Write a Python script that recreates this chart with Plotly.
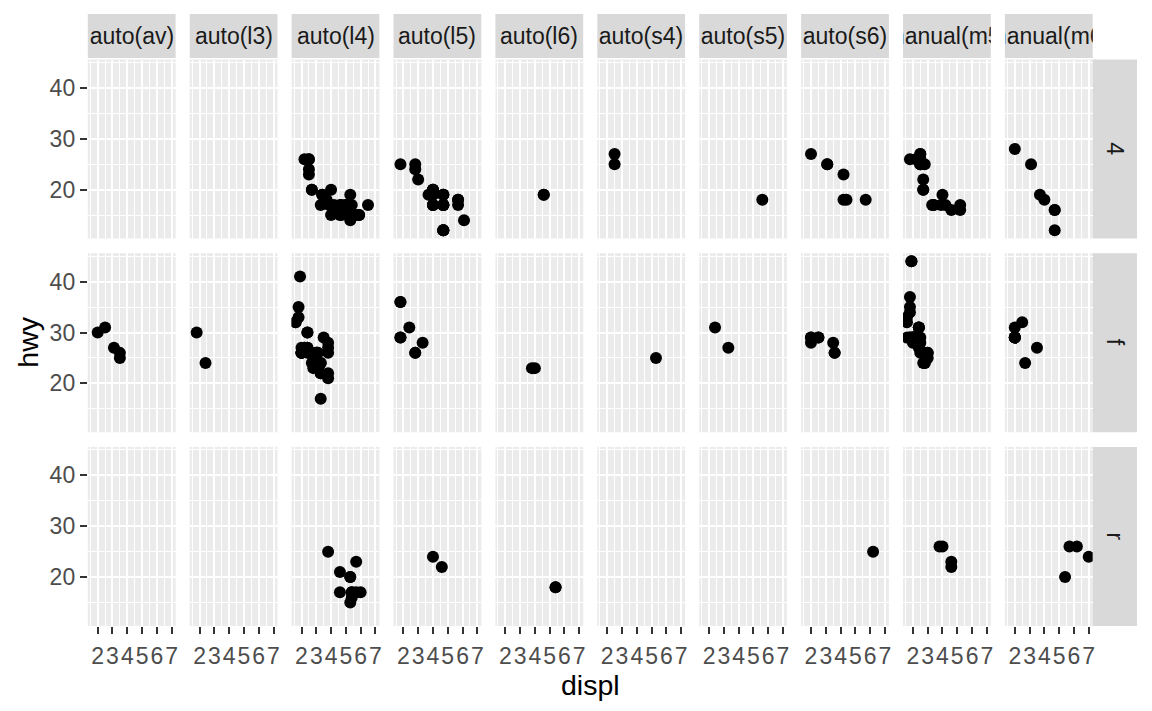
import plotly.graph_objects as go

# ---- data (mpg: displ, hwy, trans, drv) ----
displ = [1.8,1.8,2.0,2.0,2.8,2.8,3.1,1.8,1.8,2.0,2.0,2.8,2.8,3.1,3.1,2.8,3.1,4.2,
         5.3,5.3,5.3,5.7,6.0,5.7,5.7,6.2,6.2,7.0,5.3,5.3,5.7,6.5,2.4,2.4,3.1,3.5,3.6,
         2.4,3.0,3.3,3.3,3.3,3.3,3.3,3.8,3.8,3.8,4.0,3.7,3.7,3.9,3.9,4.7,4.7,4.7,5.2,5.2,
         3.9,4.7,4.7,4.7,5.2,5.7,5.9,4.7,4.7,4.7,4.7,4.7,4.7,5.2,5.2,5.7,5.9,
         4.6,5.4,5.4,4.0,4.0,4.0,4.0,4.6,5.0,4.2,4.2,4.6,4.6,4.6,5.4,5.4,
         3.8,3.8,4.0,4.0,4.6,4.6,4.6,4.6,5.4,1.6,1.6,1.6,1.6,1.6,1.8,1.8,1.8,2.0,
         2.4,2.4,2.4,2.4,2.5,2.5,3.3,2.0,2.0,2.0,2.0,2.7,2.7,2.7,
         3.0,3.7,4.0,4.7,4.7,4.7,5.7,6.1,4.0,4.2,4.4,4.6,5.4,5.4,5.4,4.0,4.0,4.6,5.0,
         2.4,2.4,2.5,2.5,3.5,3.5,3.0,3.0,3.5,3.3,3.3,4.0,5.6,3.1,3.8,3.8,3.8,5.3,
         2.5,2.5,2.5,2.5,2.5,2.5,2.2,2.2,2.5,2.5,2.5,2.5,2.5,2.5,
         2.7,2.7,3.4,3.4,4.0,4.7,2.2,2.2,2.4,2.4,3.0,3.0,3.5,2.2,2.2,2.4,2.4,3.0,3.0,3.3,
         1.8,1.8,1.8,1.8,1.8,4.7,5.7,2.7,2.7,2.7,3.4,3.4,4.0,4.0,
         2.0,2.0,2.0,2.0,2.8,1.9,2.0,2.0,2.0,2.0,2.5,2.5,2.8,2.8,
         1.9,1.9,2.0,2.0,2.5,2.5,1.8,1.8,2.0,2.0,2.8,2.8,3.6]
hwy = [29,29,31,30,26,26,27,26,25,28,27,25,25,25,25,24,25,23,
       20,15,20,17,17,26,23,26,25,24,19,14,15,17,27,30,26,29,26,
       24,24,22,22,24,24,17,22,21,23,23,19,18,17,17,19,19,12,17,15,
       17,17,12,17,16,18,15,16,12,17,17,16,12,15,16,17,15,
       17,17,18,17,19,17,19,19,17,17,17,16,16,17,15,17,
       26,25,26,24,21,22,23,22,20,33,32,32,29,32,34,36,36,29,
       26,27,30,31,26,26,28,26,29,28,27,24,24,24,
       22,19,20,17,12,19,18,14,15,18,18,15,17,16,18,17,19,19,17,
       29,27,31,32,27,26,26,25,25,17,17,20,18,26,26,27,28,25,
       25,24,27,25,26,23,26,26,26,26,25,27,25,27,
       20,20,19,17,20,17,29,27,31,31,26,26,28,27,29,31,31,26,26,27,
       30,33,35,37,35,15,18,20,20,22,17,19,18,20,
       29,26,29,29,24,44,29,26,29,29,29,29,23,24,
       44,41,29,26,28,29,29,29,28,29,26,26,26]
trans = ["auto(l5)","manual(m5)","manual(m6)","auto(av)","auto(l5)","manual(m5)","auto(av)",
         "manual(m5)","auto(l5)","manual(m6)","auto(s6)","auto(l5)","manual(m5)","auto(s6)","manual(m6)",
         "auto(l5)","auto(s6)","auto(s6)",
         "auto(l4)","auto(l4)","auto(l4)","auto(l4)","auto(l4)","manual(m6)","auto(l4)","manual(m6)","auto(s6)","manual(m6)",
         "auto(l4)","auto(l4)","auto(l4)","auto(l4)",
         "auto(l4)","auto(l4)","auto(l4)","auto(l4)","auto(s6)",
         "auto(l3)","auto(l4)","auto(l4)","auto(l4)","auto(l4)","auto(l4)","auto(l4)","auto(l4)","auto(l4)","auto(l6)","auto(l6)",
         "manual(m6)","auto(l4)","auto(l4)","manual(m5)","auto(l5)","auto(l5)","auto(l5)","manual(m5)","auto(l4)",
         "auto(l4)","auto(l5)","auto(l5)","auto(l5)","auto(l4)","auto(l5)","auto(l4)",
         "manual(m6)","auto(l5)","auto(l5)","auto(l5)","manual(m6)","manual(m6)","auto(l4)","manual(m5)","auto(l5)","auto(l4)",
         "auto(l4)","auto(l4)","auto(l6)",
         "auto(l5)","manual(m5)","auto(l5)","auto(l5)","auto(l6)","auto(l4)",
         "auto(l4)","manual(m5)","manual(m5)","auto(l4)","auto(l4)","auto(l4)","auto(l4)",
         "manual(m5)","auto(l4)","manual(m5)","auto(l5)","auto(l4)","manual(m5)","manual(m5)","auto(l5)","manual(m6)",
         "manual(m5)","auto(l4)","manual(m5)","manual(m5)","auto(l4)","manual(m5)","auto(l5)","auto(l5)","manual(m6)",
         "auto(l4)","manual(m5)","auto(l4)","manual(m5)","auto(l4)","manual(m5)","auto(l5)",
         "auto(l4)","manual(m5)","manual(m5)","auto(l4)","auto(l4)","manual(m6)","manual(m5)",
         "auto(l5)","auto(l5)","auto(l4)","auto(l4)","auto(l5)","auto(l5)","auto(l5)","auto(l5)",
         "auto(l4)","auto(s6)","auto(s6)","auto(l4)",
         "auto(l4)","auto(l4)","auto(l6)",
         "auto(l5)","auto(l5)","auto(l6)","auto(l4)",
         "manual(m5)","auto(l4)","auto(av)","manual(m6)","manual(m6)","auto(av)",
         "auto(l4)","manual(m5)","auto(av)",
         "auto(l4)","manual(m5)","auto(l5)","auto(s5)",
         "auto(l4)","auto(l4)","auto(l4)","auto(l4)","auto(s4)",
         "manual(m5)","auto(l4)","manual(m5)","manual(m5)","auto(l4)","auto(l4)",
         "auto(l4)","manual(m5)","manual(m5)","auto(l4)","auto(s4)","auto(s4)","manual(m5)","manual(m5)",
         "manual(m5)","auto(l4)","auto(l4)","manual(m5)","auto(l5)","auto(l5)",
         "manual(m5)","auto(l4)","manual(m5)","auto(l5)","auto(l4)","manual(m5)","auto(s6)",
         "auto(l4)","manual(m5)","manual(m5)","auto(s5)","auto(l4)","manual(m5)","auto(s5)",
         "auto(l3)","auto(l4)","manual(m5)","manual(m5)","auto(l4)",
         "auto(l4)","auto(s6)",
         "manual(m5)","auto(l4)","manual(m5)","manual(m5)","auto(l4)","manual(m6)","auto(l5)",
         "manual(m5)","auto(l4)","manual(m6)","auto(s6)","manual(m5)",
         "manual(m5)","manual(m5)","auto(l4)","auto(s6)","manual(m6)","auto(s6)","manual(m5)","auto(l4)","manual(m5)",
         "manual(m5)","auto(l4)","manual(m5)","auto(l4)","manual(m5)","auto(s6)",
         "manual(m5)","auto(l5)","auto(s6)","manual(m6)","auto(l5)","manual(m5)","auto(s6)"]
drv = list("fffffff" "44444444" "444" "rrrrrrrrrr" "4444" "fffff" "fffffffffff"
           "444444444" "4444444" "4444444444" "rrr" "444444" "4444444" "rrrrrrrrr"
           "fffffffff" "fffffff" "fffffff" "44444444" "4444" "rrr" "4444" "ffffff" "fff"
           "4444" "fffff" "444444" "44444444" "444444" "fffffff" "fffffff" "fffff" "44"
           "4444444" "fffff" "fffffffff" "ffffff" "fffffff")

trans_levels = ["auto(av)", "auto(l3)", "auto(l4)", "auto(l5)", "auto(l6)",
                "auto(s4)", "auto(s5)", "auto(s6)", "manual(m5)", "manual(m6)"]
drv_levels = ["4", "f", "r"]
x_ticks = [2, 3, 4, 5, 6, 7]
y_ticks = [20, 30, 40]

# ---- layout geometry (page px; the page body has an 8px margin) ----
OFF = 8
W, H = 1152 - 2 * OFF, 711 - 2 * OFF
PX0, PW, PSTEP = 87.8, 87.8, 101.9
PY0, PH, PYSTEP = 59.5, 179.0, 193.7
STRIP_T0, STRIP_T1 = 14.0, 58.0
STRIP_R0, STRIP_R1 = PX0 + 9 * PSTEP + PW, 1137.0
FONT = "Liberation Sans, Arial, sans-serif"
XR = [1.33, 7.27]
YR = [10.4, 45.6]


def fx(px):
    return (px - OFF) / W


def fy(py):
    return 1 - (py - OFF) / H


fig = go.Figure()
layout = dict(width=W, height=H, margin=dict(l=0, r=0, t=0, b=0, autoexpand=False),
              paper_bgcolor="white", plot_bgcolor="#EBEBEB", showlegend=False)
shapes, annotations = [], []

for j, dv in enumerate(drv_levels):
    for i, tr in enumerate(trans_levels):
        k = j * 10 + i + 1
        xs = [d for d, t, v in zip(displ, trans, drv) if t == tr and v == dv]
        ys = [h for h, t, v in zip(hwy, trans, drv) if t == tr and v == dv]
        fig.add_trace(go.Scatter(x=xs, y=ys, mode="markers",
                                 marker=dict(color="black", size=12, line=dict(width=0)),
                                 xaxis=f"x{k}", yaxis=f"y{k}", hoverinfo="x+y"))
        x0 = PX0 + i * PSTEP
        y0 = PY0 + j * PYSTEP
        bottom = (j == 2)
        left = (i == 0)
        layout[f"xaxis{k}"] = dict(
            domain=[fx(x0), fx(x0 + PW)], anchor=f"y{k}", range=XR,
            automargin=False, tickangle=0, ticklabelstandoff=2,
            tickmode="array", tickvals=x_ticks, ticktext=[str(t) for t in x_ticks],
            showticklabels=bottom, ticks="outside" if bottom else "",
            ticklen=7, tickwidth=2.4, tickcolor="#333333",
            tickfont=dict(family=FONT, size=23, color="#4D4D4D"),
            showgrid=True, gridcolor="white", gridwidth=2.4,
            minor=dict(tickvals=[1.5, 2.5, 3.5, 4.5, 5.5, 6.5], showgrid=True,
                       gridcolor="white", gridwidth=1.2, ticks=""),
            zeroline=False, showline=False, fixedrange=True)
        layout[f"yaxis{k}"] = dict(
            domain=[fy(y0 + PH), fy(y0)], anchor=f"x{k}", range=YR,
            automargin=False, tickangle=0,
            tickmode="array", tickvals=y_ticks, ticktext=[str(t) for t in y_ticks],
            showticklabels=left, ticks="outside" if left else "",
            ticklen=7, tickwidth=2.4, tickcolor="#333333",
            tickfont=dict(family=FONT, size=23, color="#4D4D4D"),
            showgrid=True, gridcolor="white", gridwidth=2.4,
            minor=dict(tickvals=[15, 25, 35, 45], showgrid=True,
                       gridcolor="white", gridwidth=1.2, ticks=""),
            zeroline=False, showline=False, fixedrange=True)

# top strips
for i, tr in enumerate(trans_levels):
    x0 = PX0 + i * PSTEP
    shapes.append(dict(type="rect", xref="paper", yref="paper",
                       x0=fx(x0), x1=fx(x0 + PW), y0=fy(STRIP_T1), y1=fy(STRIP_T0),
                       fillcolor="#D9D9D9", line=dict(width=0), layer="below"))
    annotations.append(dict(text=tr, xref="paper", yref="paper",
                            x=fx(x0 + PW / 2), y=fy((STRIP_T0 + STRIP_T1) / 2),
                            xanchor="center", yanchor="middle", showarrow=False,
                            width=PW, align="center", borderpad=0,
                            font=dict(family=FONT, size=23, color="#1A1A1A")))

# right strips
for j, dv in enumerate(drv_levels):
    y0 = PY0 + j * PYSTEP
    shapes.append(dict(type="rect", xref="paper", yref="paper",
                       x0=fx(STRIP_R0), x1=fx(STRIP_R1), y0=fy(y0 + PH), y1=fy(y0),
                       fillcolor="#D9D9D9", line=dict(width=0), layer="below"))
    annotations.append(dict(text=dv, xref="paper", yref="paper",
                            x=fx((STRIP_R0 + STRIP_R1) / 2), y=fy(y0 + PH / 2),
                            xanchor="center", yanchor="middle", showarrow=False,
                            textangle=90,
                            font=dict(family=FONT, size=23, color="#1A1A1A")))

# axis titles
annotations.append(dict(text="displ", xref="paper", yref="paper",
                        x=fx(PX0 + (9 * PSTEP + PW) / 2), y=fy(685),
                        xanchor="center", yanchor="middle", showarrow=False,
                        font=dict(family=FONT, size=28.5, color="black")))
annotations.append(dict(text="hwy", xref="paper", yref="paper",
                        x=fx(28), y=fy(PY0 + (2 * PYSTEP + PH) / 2),
                        xanchor="center", yanchor="middle", showarrow=False,
                        textangle=-90,
                        font=dict(family=FONT, size=28.5, color="black")))

layout["shapes"] = shapes
layout["annotations"] = annotations
fig.update_layout(**layout)
fig.write_html("out.html")
